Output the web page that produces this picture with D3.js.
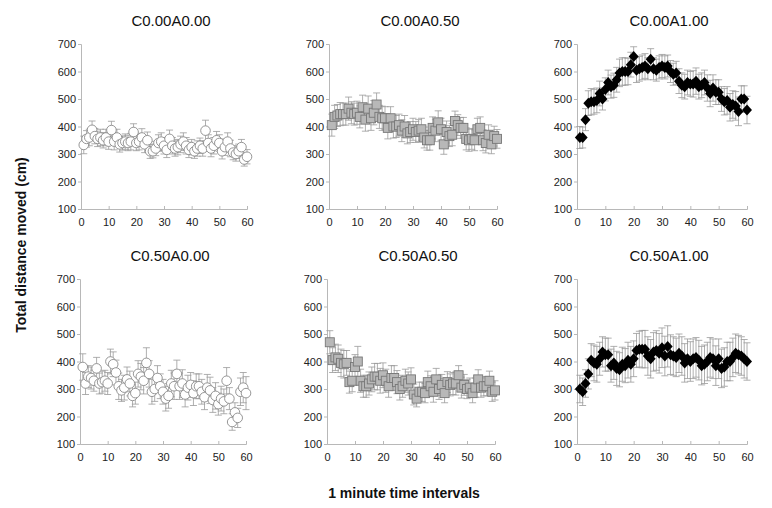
<!DOCTYPE html>
<html><head><meta charset="utf-8">
<script src="https://cdn.jsdelivr.net/npm/d3@7"></script>
<style>body{margin:0;background:#fff}svg{display:block;font-family:"Liberation Sans",Arial,sans-serif}</style>
</head><body><svg id="c" width="772" height="508"></svg>
<script>
const minutes = d3.range(1, 61);
const xTicks = [0, 10, 20, 30, 40, 50, 60];
const yTicks = [100, 200, 300, 400, 500, 600, 700];
const titles = ["C0.00A0.00", "C0.00A0.50", "C0.00A1.00", "C0.50A0.00", "C0.50A0.50", "C0.50A1.00"];

const meanC0A0 = [333,355,360,388,365,355,360,350,360,345,387,345,360,335,340,345,340,345,380,340,345,360,335,350,310,310,320,340,345,330,315,355,330,320,325,335,345,330,315,325,310,320,330,320,385,340,320,330,350,340,310,325,345,320,305,300,310,325,280,290];
const errC0A0 = [32,30,30,32,28,28,30,28,30,28,32,30,30,28,26,28,28,30,30,28,30,32,30,30,26,24,26,30,32,30,28,32,30,28,28,30,32,30,28,28,26,28,28,28,38,30,30,30,32,30,28,30,32,30,26,26,26,28,24,26];

const meanC0A05 = [405,435,440,445,445,445,465,450,445,450,435,470,425,465,430,450,480,435,430,430,395,430,400,400,405,385,400,375,380,390,380,385,390,360,350,350,395,385,415,390,335,380,365,370,420,405,395,395,355,350,355,350,390,395,350,340,370,335,365,355];
const errC0A05 = [40,42,40,42,40,40,42,40,40,42,40,44,42,46,44,44,42,42,44,42,40,42,42,40,40,40,40,38,38,40,38,40,40,38,36,36,40,40,42,40,36,40,38,40,36,38,38,38,40,40,38,38,40,40,38,36,36,34,36,34];

const meanC0A1 = [360,360,425,485,490,490,495,520,500,535,560,545,550,570,595,600,600,600,625,655,605,610,615,620,610,645,610,605,615,620,615,620,600,590,595,565,550,545,560,555,555,565,545,550,560,540,520,540,525,525,500,490,495,470,480,475,455,500,500,460];
const errC0A1 = [40,38,40,45,48,45,45,45,40,42,45,42,44,45,50,50,50,48,45,35,45,45,45,45,40,38,40,40,42,42,42,40,40,40,42,45,45,45,45,45,48,48,45,45,45,48,48,48,45,45,45,48,50,50,50,52,52,48,48,50];

const meanC05A0 = [380,320,345,340,330,375,320,325,330,320,400,390,360,310,295,305,335,320,275,285,355,345,330,395,355,290,300,340,310,290,265,275,320,310,355,310,320,280,305,315,285,310,310,290,270,305,295,260,275,245,265,255,330,265,180,215,195,290,305,285];
const errC05A0 = [48,40,40,40,38,40,38,40,38,40,45,45,45,48,40,45,45,45,40,40,48,48,48,55,48,45,45,45,45,45,45,45,48,48,50,48,50,45,45,45,45,45,45,45,45,48,48,45,48,40,45,45,48,40,30,35,35,50,55,60];

const meanC05A05 = [470,405,415,410,395,390,395,325,330,380,400,330,310,310,320,335,345,345,330,350,330,310,340,340,325,300,310,330,320,335,280,265,290,290,285,325,310,290,335,300,315,285,325,315,320,320,350,305,315,300,305,285,305,335,305,310,310,330,290,295];
const errC05A05 = [42,45,48,50,50,50,45,40,40,45,55,42,40,40,42,45,48,48,45,45,42,40,45,45,42,40,40,42,42,42,38,30,35,35,35,40,38,38,40,38,38,35,38,40,40,42,35,38,38,35,35,35,35,35,35,35,35,35,35,35];

const meanC05A1 = [300,290,320,355,405,395,390,410,435,425,425,385,395,375,370,390,385,405,390,410,440,445,445,445,420,410,435,440,430,450,420,455,425,420,415,430,420,395,410,400,410,415,405,385,390,400,415,410,385,410,375,380,400,400,415,430,425,420,410,400];
const errC05A1 = [50,50,50,55,60,65,65,60,55,60,60,60,60,62,62,62,62,65,65,65,62,65,68,68,70,70,70,72,72,72,72,75,72,70,70,70,70,70,72,72,72,72,72,70,70,70,72,72,72,72,70,70,70,70,70,70,70,70,70,68];

const series = [
  {mean: meanC0A0, err: errC0A0, shape: "circle"},
  {mean: meanC0A05, err: errC0A05, shape: "square"},
  {mean: meanC0A1, err: errC0A1, shape: "diamond"},
  {mean: meanC05A0, err: errC05A0, shape: "circle"},
  {mean: meanC05A05, err: errC05A05, shape: "square"},
  {mean: meanC05A1, err: errC05A1, shape: "diamond"}
];
const panelX = [[81,247],[329,497],[577,747],[80,246],[327,495],[577,747]];
const panelY = [[209,44],[209,44],[209,44],[444,279],[444,279],[444,279]];

const svg = d3.select("#c");
const axisCol = "#b8b8b8";

series.forEach((s, i) => {
  const x = d3.scaleLinear().domain([0, 60]).range(panelX[i]);
  const y = d3.scaleLinear().domain([100, 700]).range(panelY[i]);
  const g = svg.append("g");

  const ya = g.append("g").attr("transform", `translate(${panelX[i][0]},0)`)
    .call(d3.axisLeft(y).tickValues(yTicks).tickSize(3).tickPadding(2));
  const xa = g.append("g").attr("transform", `translate(0,${panelY[i][0]})`)
    .call(d3.axisBottom(x).tickValues(xTicks).tickSize(-3).tickPadding(9));
  [ya, xa].forEach(a => {
    a.select(".domain").attr("stroke", axisCol);
    a.selectAll(".tick line").attr("stroke", axisCol);
    a.selectAll(".tick text").attr("fill", "#222").style("font-size", "11px")
      .style("font-family", '"Liberation Sans",Arial,sans-serif');
  });

  g.append("text").attr("x", (panelX[i][0] + panelX[i][1]) / 2 + 7).attr("y", panelY[i][1] - 18)
    .attr("text-anchor", "middle").style("font-size", "15px").attr("fill", "#111").text(titles[i]);

  const pts = minutes.map((m, k) => ({m, v: s.mean[k], e: s.err[k]}));
  const eb = g.append("g").attr("stroke", "#9a9a9a").attr("stroke-width", 0.8).attr("fill", "none");
  pts.forEach(p => {
    const cx = x(p.m), t = y(p.v + p.e), b = y(p.v - p.e);
    eb.append("line").attr("x1", cx).attr("x2", cx).attr("y1", t).attr("y2", b);
    eb.append("line").attr("x1", cx - 3.5).attr("x2", cx + 3.5).attr("y1", t).attr("y2", t);
    eb.append("line").attr("x1", cx - 3.5).attr("x2", cx + 3.5).attr("y1", b).attr("y2", b);
  });

  const mk = g.append("g");
  pts.forEach(p => {
    const cx = x(p.m), cy = y(p.v);
    if (s.shape === "circle") {
      mk.append("circle").attr("cx", cx).attr("cy", cy).attr("r", 4.8)
        .attr("fill", "#fff").attr("stroke", "#8a8a8a").attr("stroke-width", 0.9);
    } else if (s.shape === "square") {
      mk.append("rect").attr("x", cx - 4.5).attr("y", cy - 4.5).attr("width", 9).attr("height", 9)
        .attr("fill", "#b8b8b8").attr("stroke", "#777").attr("stroke-width", 0.9);
    } else {
      mk.append("path").attr("d", `M${cx},${cy-5.5}L${cx+5},${cy}L${cx},${cy+5.5}L${cx-5},${cy}Z`)
        .attr("fill", "#000");
    }
  });
});

svg.append("text").attr("transform", "translate(26,245) rotate(-90)").attr("text-anchor", "middle")
  .style("font-size", "14px").style("font-weight", "bold").attr("fill", "#111").text("Total distance moved (cm)");
svg.append("text").attr("x", 404).attr("y", 498).attr("text-anchor", "middle")
  .style("font-size", "14px").style("font-weight", "bold").attr("fill", "#111").text("1 minute time intervals");
</script></body></html>
